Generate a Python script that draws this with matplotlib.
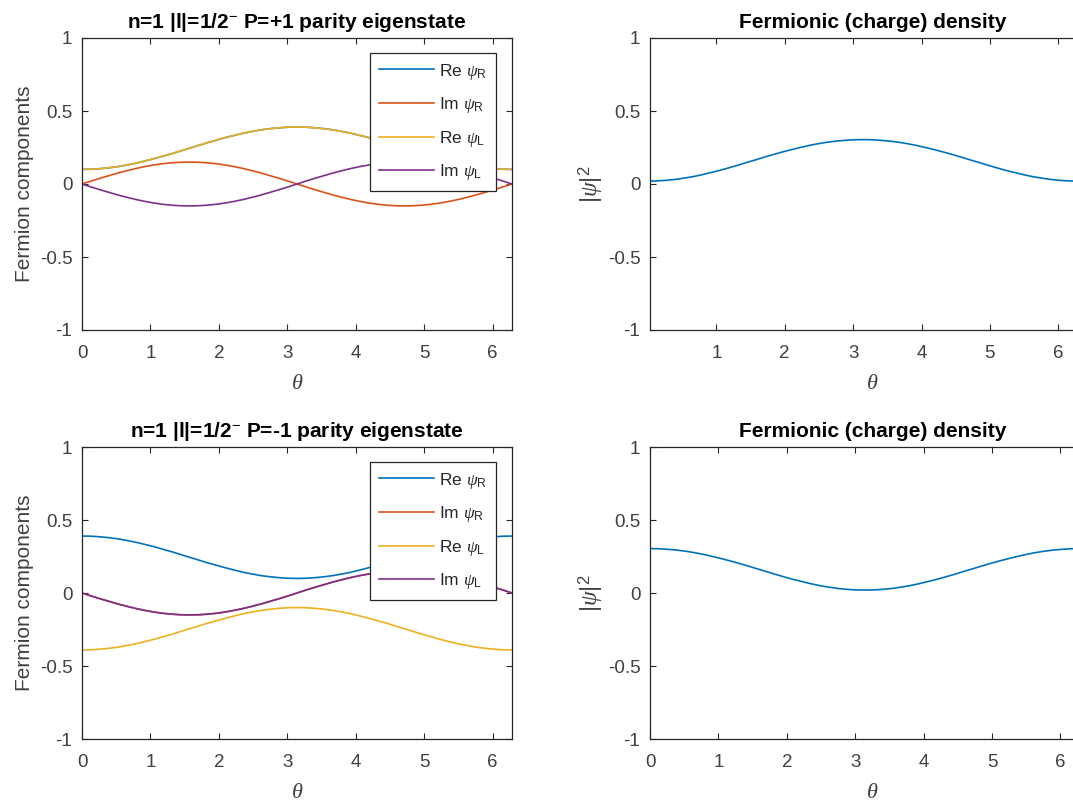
import numpy as np
import matplotlib
matplotlib.use("Agg")
import matplotlib.pyplot as plt

plt.rcParams['font.family'] = ['Liberation Sans', 'DejaVu Sans']
plt.rcParams['mathtext.fontset'] = 'custom'
plt.rcParams['mathtext.rm'] = 'Liberation Sans'
plt.rcParams['mathtext.it'] = 'Liberation Serif:italic'
plt.rcParams['mathtext.bf'] = 'Liberation Sans:bold'

# angle grid (7.5 degree steps, 0 .. 2 pi)
theta = np.linspace(0, 2 * np.pi, 49)

# P=+1 eigenstate (Re psi_R lies exactly under Re psi_L)
re_R_plus = [0.100, 0.101, 0.105, 0.111, 0.119, 0.130, 0.142, 0.157, 0.173, 0.190, 0.207, 0.226,
             0.245, 0.264, 0.283, 0.300, 0.318, 0.333, 0.348, 0.360, 0.371, 0.379, 0.385, 0.389,
             0.390, 0.389, 0.385, 0.379, 0.371, 0.360, 0.348, 0.333, 0.318, 0.300, 0.283, 0.264,
             0.245, 0.226, 0.207, 0.190, 0.173, 0.157, 0.142, 0.130, 0.119, 0.111, 0.105, 0.101, 0.100]
im_R_plus = [0.000, 0.020, 0.039, 0.057, 0.075, 0.091, 0.106, 0.119, 0.130, 0.139, 0.145, 0.149,
             0.150, 0.149, 0.145, 0.139, 0.130, 0.119, 0.106, 0.091, 0.075, 0.057, 0.039, 0.020,
             0.000, -0.020, -0.039, -0.057, -0.075, -0.091, -0.106, -0.119, -0.130, -0.139, -0.145, -0.149,
             -0.150, -0.149, -0.145, -0.139, -0.130, -0.119, -0.106, -0.091, -0.075, -0.057, -0.039, -0.020, 0.000]
re_L_plus = [0.100, 0.101, 0.105, 0.111, 0.119, 0.130, 0.142, 0.157, 0.173, 0.190, 0.207, 0.226,
             0.245, 0.264, 0.283, 0.300, 0.318, 0.333, 0.348, 0.360, 0.371, 0.379, 0.385, 0.389,
             0.390, 0.389, 0.385, 0.379, 0.371, 0.360, 0.348, 0.333, 0.318, 0.300, 0.283, 0.264,
             0.245, 0.226, 0.207, 0.190, 0.173, 0.157, 0.142, 0.130, 0.119, 0.111, 0.105, 0.101, 0.100]
im_L_plus = [0.000, -0.020, -0.039, -0.057, -0.075, -0.091, -0.106, -0.119, -0.130, -0.139, -0.145, -0.149,
             -0.150, -0.149, -0.145, -0.139, -0.130, -0.119, -0.106, -0.091, -0.075, -0.057, -0.039, -0.020,
             0.000, 0.020, 0.039, 0.057, 0.075, 0.091, 0.106, 0.119, 0.130, 0.139, 0.145, 0.149,
             0.150, 0.149, 0.145, 0.139, 0.130, 0.119, 0.106, 0.091, 0.075, 0.057, 0.039, 0.020, 0.000]
dens_plus = [0.020, 0.021, 0.025, 0.031, 0.040, 0.050, 0.063, 0.078, 0.093, 0.110, 0.128, 0.147,
             0.165, 0.184, 0.202, 0.219, 0.235, 0.250, 0.264, 0.276, 0.286, 0.294, 0.299, 0.303,
             0.304, 0.303, 0.299, 0.294, 0.286, 0.276, 0.264, 0.250, 0.235, 0.219, 0.202, 0.184,
             0.165, 0.147, 0.128, 0.110, 0.093, 0.078, 0.063, 0.050, 0.040, 0.031, 0.025, 0.021, 0.020]

# P=-1 eigenstate (Im psi_R lies exactly under Im psi_L)
re_R_minus = [0.390, 0.389, 0.385, 0.379, 0.371, 0.360, 0.348, 0.333, 0.318, 0.300, 0.283, 0.264,
              0.245, 0.226, 0.207, 0.190, 0.173, 0.157, 0.142, 0.130, 0.119, 0.111, 0.105, 0.101,
              0.100, 0.101, 0.105, 0.111, 0.119, 0.130, 0.142, 0.157, 0.173, 0.190, 0.207, 0.226,
              0.245, 0.264, 0.283, 0.300, 0.318, 0.333, 0.348, 0.360, 0.371, 0.379, 0.385, 0.389, 0.390]
im_R_minus = [0.000, -0.020, -0.039, -0.057, -0.075, -0.091, -0.106, -0.119, -0.130, -0.139, -0.145, -0.149,
              -0.150, -0.149, -0.145, -0.139, -0.130, -0.119, -0.106, -0.091, -0.075, -0.057, -0.039, -0.020,
              0.000, 0.020, 0.039, 0.057, 0.075, 0.091, 0.106, 0.119, 0.130, 0.139, 0.145, 0.149,
              0.150, 0.149, 0.145, 0.139, 0.130, 0.119, 0.106, 0.091, 0.075, 0.057, 0.039, 0.020, 0.000]
re_L_minus = [-0.390, -0.389, -0.385, -0.379, -0.371, -0.360, -0.348, -0.333, -0.318, -0.300, -0.283, -0.264,
              -0.245, -0.226, -0.207, -0.190, -0.173, -0.157, -0.142, -0.130, -0.119, -0.111, -0.105, -0.101,
              -0.100, -0.101, -0.105, -0.111, -0.119, -0.130, -0.142, -0.157, -0.173, -0.190, -0.207, -0.226,
              -0.245, -0.264, -0.283, -0.300, -0.318, -0.333, -0.348, -0.360, -0.371, -0.379, -0.385, -0.389, -0.390]
im_L_minus = [0.000, -0.020, -0.039, -0.057, -0.075, -0.091, -0.106, -0.119, -0.130, -0.139, -0.145, -0.149,
              -0.150, -0.149, -0.145, -0.139, -0.130, -0.119, -0.106, -0.091, -0.075, -0.057, -0.039, -0.020,
              0.000, 0.020, 0.039, 0.057, 0.075, 0.091, 0.106, 0.119, 0.130, 0.139, 0.145, 0.149,
              0.150, 0.149, 0.145, 0.139, 0.130, 0.119, 0.106, 0.091, 0.075, 0.057, 0.039, 0.020, 0.000]
dens_minus = [0.304, 0.303, 0.299, 0.294, 0.286, 0.276, 0.264, 0.250, 0.235, 0.219, 0.202, 0.184,
              0.165, 0.147, 0.128, 0.110, 0.093, 0.078, 0.063, 0.050, 0.040, 0.031, 0.025, 0.021,
              0.020, 0.021, 0.025, 0.031, 0.040, 0.050, 0.063, 0.078, 0.093, 0.110, 0.128, 0.147,
              0.165, 0.184, 0.202, 0.219, 0.235, 0.250, 0.264, 0.276, 0.286, 0.294, 0.299, 0.303, 0.304]

labels = [r'Re $\psi_{\mathrm{R}}$', r'Im $\psi_{\mathrm{R}}$', r'Re $\psi_{\mathrm{L}}$', r'Im $\psi_{\mathrm{L}}$']
colors = ['#0072BD', '#D95319', '#EDB120', '#7E2F8E']
titles = [r'n=1 |l|=1/2$^{-}$ P=+1 parity eigenstate', r'n=1 |l|=1/2$^{-}$ P=-1 parity eigenstate']
dens_title = 'Fermionic (charge) density'

AX_COL = '#262626'
TXT_COL = '#404040'
W, H = 1073, 805
PX_PER_UNIT = 68.4


def style_axes(ax):
    for s in ax.spines.values():
        s.set_color(AX_COL)
        s.set_linewidth(0.9)
    ax.tick_params(direction='in', top=True, right=True, length=4, width=0.8,
                   colors=AX_COL, labelcolor=TXT_COL, labelsize=13.5)
    ax.tick_params(axis='x', pad=11)
    ax.tick_params(axis='y', pad=7)
    ax.set_yticks([-1, -0.5, 0, 0.5, 1])
    ax.set_yticklabels(['-1', '-0.5', '0', '0.5', '1'])
    ax.set_xticks([0, 1, 2, 3, 4, 5, 6])
    ax.set_ylim(-1, 1)
    ax.set_xlabel(r'$\theta$', fontsize=16, color=TXT_COL, labelpad=8)


def px_axes(fig, x0, y0, x1, y1):
    return fig.add_axes([x0 / W, 1 - y1 / H, (x1 - x0) / W, (y1 - y0) / H])


fig = plt.figure(figsize=(W / 100, H / 100), dpi=100)

rows = [
    (38, 330, [re_R_plus, im_R_plus, re_L_plus, im_L_plus], dens_plus, 0.03),
    (447, 739, [re_R_minus, im_R_minus, re_L_minus, im_L_minus], dens_minus, 0.0),
]

for i, (y0, y1, comps, dens, x_start) in enumerate(rows):
    ax = px_axes(fig, 82, y0, 512, y1)
    for vals, c, lab in zip(comps, colors, labels):
        ax.plot(theta, vals, color=c, lw=1.2, label=lab)
    style_axes(ax)
    ax.set_xlim(0, 2 * np.pi)
    ax.set_title(titles[i], fontsize=15, fontweight='bold', pad=7)
    ax.set_ylabel('Fermion components', fontsize=15, color=TXT_COL, labelpad=4)
    leg = ax.legend(loc='upper right', bbox_to_anchor=(0.963, 0.949), fontsize=12.5,
                    fancybox=False, framealpha=1, edgecolor=AX_COL,
                    handlelength=3.2, handletextpad=0.3, labelspacing=0.78,
                    borderpad=0.5, borderaxespad=0)
    leg.get_frame().set_linewidth(0.9)
    for t in leg.get_texts():
        t.set_color(AX_COL)

    # right panel runs past the figure edge, as in the original export
    ax2 = px_axes(fig, 650, y0, 1095, y1)
    ax2.plot(theta, dens, color=colors[0], lw=1.2)
    style_axes(ax2)
    ax2.set_xlim(x_start, x_start + 445 / PX_PER_UNIT)
    ax2.set_title(dens_title, fontsize=15, fontweight='bold', pad=7)
    ax2.set_ylabel(r'$|\psi|^2$', fontsize=17, color=TXT_COL, labelpad=2)

fig.savefig('out.png', dpi=100)
